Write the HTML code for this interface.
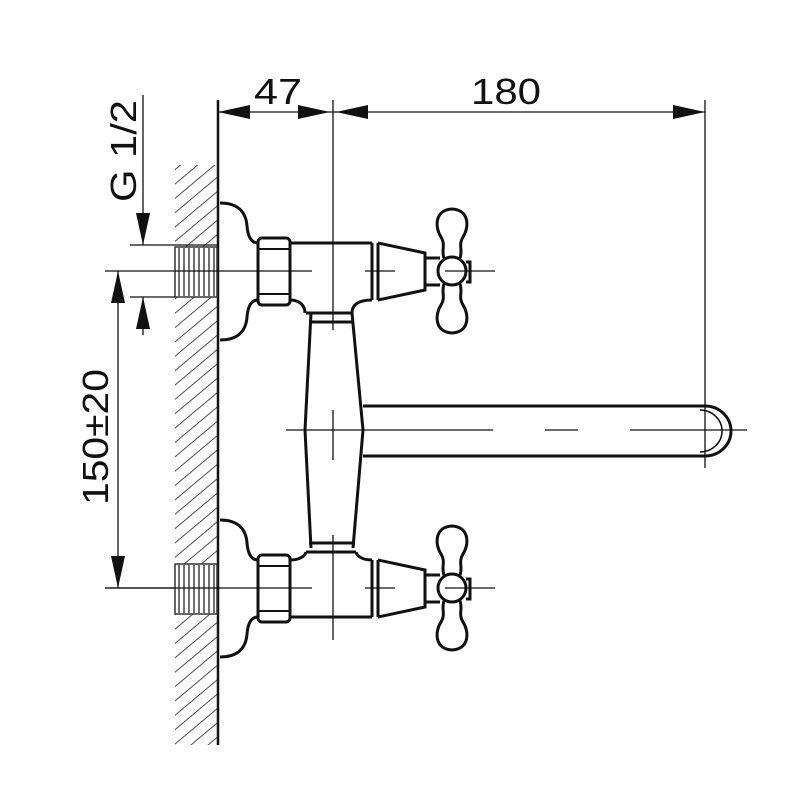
<!DOCTYPE html>
<html><head><style>body{margin:0;background:#fff}svg{display:block}</style></head><body>
<svg width="800" height="800" viewBox="0 0 800 800" xmlns="http://www.w3.org/2000/svg" font-family="Liberation Sans, sans-serif">
<defs>
<pattern id="h" width="11" height="11" patternUnits="userSpaceOnUse" patternTransform="rotate(-40)"><line x1="0" y1="0" x2="11" y2="0" stroke="#222" stroke-width="1.6"/></pattern>
<g id="valve" fill="none" stroke="#111" stroke-width="3">
 <rect x="175" y="247" width="42" height="50" fill="#fff" stroke="#333" stroke-width="1.5"/>
 <g stroke="#333" stroke-width="1.4">
  <line x1="179" y1="248" x2="179" y2="296"/><line x1="184" y1="248" x2="184" y2="296"/><line x1="189" y1="248" x2="189" y2="296"/><line x1="194" y1="248" x2="194" y2="296"/><line x1="199" y1="248" x2="199" y2="296"/><line x1="204" y1="248" x2="204" y2="296"/><line x1="209" y1="248" x2="209" y2="296"/><line x1="214" y1="248" x2="214" y2="296"/>
 </g>
 <path d="M220,203 C238,203 246,212 247,226 C248,238 252,243 258,243 M258,300 C252,300 248,305 247,317 C246,331 238,340 220,340" />
 <rect x="258" y="238" width="32" height="67" rx="4"/>
 <line x1="258" y1="249" x2="290" y2="249" stroke-width="2"/><line x1="258" y1="294" x2="290" y2="294" stroke-width="2"/>
 <line x1="372" y1="243" x2="372" y2="300"/><line x1="378" y1="243" x2="378" y2="300"/>
 <path d="M378,243 L425,253 L425,290 L378,300"/>
 <path d="M425,258 L440,258 M425,285 L440,285"/>
 <path d="M444,258 C441,250 446,245 441,237 C435,228 434,210 452,209 C470,210 469,228 463,237 C458,245 463,250 460,258 M444,284 C441,292 446,297 441,305 C435,314 434,332 452,333 C470,332 469,314 463,305 C458,297 463,292 460,284"/>
 <circle cx="452" cy="271" r="14"/>
 <path d="M466,262 L470,262 L470,282 L466,282" stroke-width="3"/>
 <g stroke-width="1.3">
  <line x1="105" y1="271" x2="312" y2="271"/><line x1="365" y1="271" x2="395" y2="271"/><line x1="445" y1="271" x2="495" y2="271"/>
 </g>
</g>
</defs>
<rect x="175" y="165" width="43" height="580" fill="url(#h)"/>
<line x1="218" y1="100" x2="218" y2="745" stroke="#111" stroke-width="2.5"/>
<use href="#valve"/>
<use href="#valve" transform="translate(0,317)"/>
<g fill="none" stroke="#111" stroke-width="3">
 <!-- upper body -->
 <path d="M290,243 L372,243 M290,300 C300,300 305,306 305,313 M352,313 C352,305 358,300 372,300"/>
 <!-- lower body -->
 <path d="M290,617 L372,617 M290,560 C300,560 305,556 306,552 M356,552 C357,556 362,560 372,560"/>
 <!-- column -->
 <path d="M311,313 L305,430 L311,548"/>
 <path d="M352,313 L363,430 L353,548"/>
 <line x1="306" y1="313" x2="352" y2="313"/><line x1="309" y1="322" x2="352" y2="322"/>
 <line x1="309" y1="543" x2="355" y2="543"/><line x1="306" y1="552" x2="356" y2="552"/>
 <path d="M363,406 L705,406 A26,25 0 0 1 705,456 L363,456"/>
 <path d="M700,410 A21,20 0 0 1 700,452" stroke-width="1.5"/>
</g>
<g stroke="#111" stroke-width="1.3" fill="none">
 <line x1="286" y1="430" x2="493" y2="430"/><line x1="545" y1="430" x2="578" y2="430"/><line x1="630" y1="430" x2="747" y2="430"/>
 <line x1="333" y1="100" x2="333" y2="330"/><line x1="333" y1="410" x2="333" y2="460"/><line x1="333" y1="535" x2="333" y2="640"/>
 <line x1="705" y1="100" x2="705" y2="468"/>
 <line x1="218" y1="112" x2="705" y2="112"/>
 <line x1="143" y1="95" x2="143" y2="245"/><line x1="130" y1="245" x2="218" y2="245"/>
 <line x1="130" y1="297" x2="175" y2="297"/><line x1="143" y1="297" x2="143" y2="335"/>
 <line x1="118" y1="271" x2="118" y2="588"/><line x1="105" y1="588" x2="175" y2="588"/>
</g>
<g fill="#111">
 <polygon points="218,112 250,105 250,119"/><polygon points="330,112 298,105 298,119"/>
 <polygon points="336,112 368,105 368,119"/><polygon points="705,112 673,105 673,119"/>
 <polygon points="143,245 136,213 150,213"/><polygon points="143,297 136,329 150,329"/>
 <polygon points="118,271 111,303 125,303"/><polygon points="118,588 111,556 125,556"/>
</g>
<g font-size="36" fill="#111">
 <text x="254" y="104" textLength="48" lengthAdjust="spacingAndGlyphs">47</text>
 <text x="471" y="104" textLength="70" lengthAdjust="spacingAndGlyphs">180</text>
 <text transform="translate(136,202) rotate(-90)" textLength="102" lengthAdjust="spacingAndGlyphs">G 1/2</text>
 <text transform="translate(108,505) rotate(-90)" textLength="136" lengthAdjust="spacingAndGlyphs">150±20</text>
</g>
</svg>
</body></html>
